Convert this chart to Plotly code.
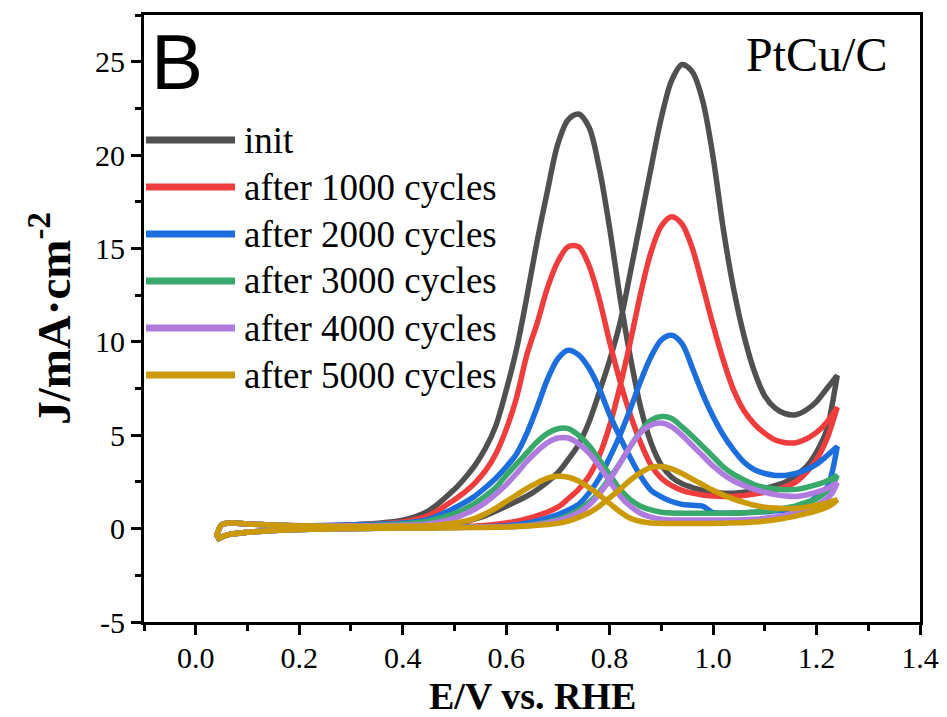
import plotly.graph_objects as go

# ---------------- data ----------------
E_FWD = [0.04, 0.06, 0.1, 0.2, 0.3, 0.4, 0.5, 0.55, 0.6, 0.65,
         0.7, 0.72, 0.74, 0.76, 0.78, 0.8, 0.82, 0.84, 0.86, 0.88,
         0.9, 0.92, 0.94, 0.96, 0.98, 1.0, 1.02, 1.04, 1.06, 1.08,
         1.1, 1.12, 1.14, 1.16, 1.18, 1.2, 1.22, 1.24]
E_BWD = [1.24, 1.23, 1.22, 1.2, 1.18, 1.16, 1.14, 1.12, 1.1, 1.08,
         1.06, 1.04, 1.02, 1.0, 0.98, 0.96, 0.94, 0.92, 0.9, 0.88,
         0.86, 0.84, 0.82, 0.8, 0.78, 0.76, 0.74, 0.72, 0.7, 0.68,
         0.66, 0.64, 0.62, 0.6, 0.58, 0.56, 0.54, 0.52, 0.5, 0.45,
         0.4, 0.3, 0.2, 0.1, 0.07, 0.05, 0.04]

INIT_FWD = [-0.6, -0.35, -0.2, -0.05, 0.0, 0.05, 0.25, 0.6, 1.2, 1.9,
            3.0, 3.7, 4.5, 5.7, 7.3, 9.0, 11.0, 13.7, 16.5, 19.3,
            22.0, 24.0, 24.85, 24.45, 22.9, 19.9, 16.0, 12.8, 10.3, 8.4,
            7.1, 6.45, 6.15, 6.1, 6.35, 6.8, 7.5, 8.2]
INIT_BWD = [8.2, 6.6, 5.3, 4.1, 3.3, 2.85, 2.5, 2.3, 2.15, 2.05,
            1.95, 1.9, 1.9, 1.95, 2.05, 2.2, 2.4, 2.75, 3.4, 4.6,
            6.5, 9.2, 12.4, 16.1, 19.3, 21.5, 22.2, 21.9, 20.6, 18.1,
            15.4, 12.4, 9.6, 7.4, 5.5, 4.3, 3.4, 2.7, 2.1, 0.95,
            0.45, 0.2, 0.15, 0.25, 0.3, 0.2, -0.45]

C1000_FWD = [-0.6, -0.35, -0.2, -0.05, 0.0, 0.03, 0.1, 0.15, 0.3, 0.6,
             1.15, 1.6, 2.1, 2.8, 3.9, 5.5, 7.6, 10.0, 12.6, 14.8,
             16.2, 16.7, 16.3, 15.0, 13.0, 10.9, 9.0, 7.4, 6.3, 5.6,
             5.1, 4.75, 4.6, 4.6, 4.8, 5.15, 5.7, 6.5]
C1000_BWD = [6.5, 5.6, 4.8, 3.7, 3.0, 2.5, 2.25, 2.05, 1.95, 1.85,
             1.78, 1.72, 1.72, 1.75, 1.8, 1.9, 2.05, 2.3, 2.7, 3.4,
             4.6, 6.1, 7.9, 10.0, 12.3, 14.1, 15.1, 15.1, 14.3, 12.9,
             11.0, 9.3, 7.0, 5.3, 4.0, 3.1, 2.45, 1.95, 1.55, 0.7,
             0.35, 0.2, 0.15, 0.25, 0.3, 0.2, -0.45]

C2000_FWD = [-0.6, -0.35, -0.2, -0.05, 0.0, 0.03, 0.08, 0.1, 0.15, 0.35,
             0.75, 1.0, 1.3, 1.9, 2.7, 3.8, 5.0, 6.4, 7.9, 9.2,
             10.1, 10.35, 9.9, 8.6, 7.2, 6.0, 5.0, 4.2, 3.55, 3.15,
             2.95, 2.85, 2.85, 2.95, 3.15, 3.45, 3.9, 4.4]
C2000_BWD = [4.4, 3.0, 2.2, 1.7, 1.35, 1.15, 1.0, 0.95, 0.9, 0.88,
             0.85, 0.83, 0.82, 0.85, 1.2, 1.25, 1.3, 1.45, 1.7, 2.05,
             2.8, 3.8, 4.9, 6.1, 7.5, 8.6, 9.3, 9.55, 9.1, 8.0,
             6.5, 5.1, 4.0, 3.3, 2.7, 2.2, 1.75, 1.4, 1.1, 0.5,
             0.3, 0.2, 0.15, 0.25, 0.3, 0.2, -0.45]

C3000_FWD = [-0.6, -0.35, -0.2, -0.05, 0.0, 0.03, 0.06, 0.08, 0.1, 0.2,
             0.5, 0.7, 1.0, 1.4, 1.95, 2.7, 3.5, 4.4, 5.2, 5.8,
             6.0, 5.9, 5.45, 4.95, 4.4, 3.85, 3.3, 2.9, 2.6, 2.35,
             2.2, 2.12, 2.08, 2.1, 2.2, 2.35, 2.55, 2.85]
C3000_BWD = [2.85, 2.3, 2.0, 1.6, 1.4, 1.22, 1.1, 1.0, 0.93, 0.88,
             0.85, 0.83, 0.82, 0.82, 0.82, 0.82, 0.82, 0.83, 0.88, 1.0,
             1.2, 1.55, 2.1, 2.9, 3.7, 4.45, 5.0, 5.35, 5.35, 5.1,
             4.65, 4.05, 3.45, 2.85, 2.2, 1.75, 1.35, 1.05, 0.8, 0.4,
             0.25, 0.15, 0.15, 0.25, 0.3, 0.2, -0.45]

C4000_FWD = [-0.6, -0.35, -0.2, -0.05, 0.0, 0.03, 0.06, 0.08, 0.1, 0.18,
             0.42, 0.6, 0.85, 1.25, 1.85, 2.6, 3.5, 4.4, 5.15, 5.55,
             5.65, 5.45, 5.0, 4.45, 3.9, 3.35, 2.9, 2.55, 2.3, 2.1,
             1.95, 1.82, 1.75, 1.72, 1.8, 1.95, 2.15, 2.45]
C4000_BWD = [2.45, 1.9, 1.6, 1.25, 1.05, 0.85, 0.72, 0.62, 0.55, 0.5,
             0.47, 0.46, 0.46, 0.46, 0.46, 0.46, 0.46, 0.46, 0.5, 0.62,
             0.82, 1.2, 1.75, 2.55, 3.35, 4.05, 4.55, 4.85, 4.85, 4.6,
             4.15, 3.6, 2.95, 2.35, 1.85, 1.4, 1.05, 0.78, 0.55, 0.25,
             0.18, 0.15, 0.15, 0.25, 0.3, 0.2, -0.45]

C5000_FWD = [-0.6, -0.35, -0.2, -0.05, 0.0, 0.03, 0.05, 0.06, 0.08, 0.15,
             0.28, 0.4, 0.6, 0.85, 1.2, 1.65, 2.1, 2.6, 3.0, 3.28,
             3.32, 3.2, 2.95, 2.65, 2.35, 2.05, 1.8, 1.58, 1.4, 1.25,
             1.15, 1.1, 1.08, 1.08, 1.15, 1.25, 1.38, 1.55]
C5000_BWD = [1.55, 1.3, 1.15, 0.95, 0.8, 0.67, 0.56, 0.47, 0.4, 0.35,
             0.32, 0.3, 0.29, 0.28, 0.28, 0.28, 0.28, 0.28, 0.28, 0.3,
             0.38, 0.55, 0.9, 1.35, 1.8, 2.2, 2.55, 2.75, 2.8, 2.7,
             2.45, 2.15, 1.8, 1.45, 1.1, 0.8, 0.55, 0.4, 0.3, 0.15,
             0.12, 0.12, 0.15, 0.25, 0.3, 0.2, -0.45]

LABELS = ["init", "after 1000 cycles", "after 2000 cycles",
          "after 3000 cycles", "after 4000 cycles", "after 5000 cycles"]
COLORS = ["#505050", "#EF3D3D", "#1C6EDD", "#38A96A", "#B07BDF", "#CC9A06"]
SERIES = [(INIT_FWD, INIT_BWD), (C1000_FWD, C1000_BWD), (C2000_FWD, C2000_BWD),
          (C3000_FWD, C3000_BWD), (C4000_FWD, C4000_BWD), (C5000_FWD, C5000_BWD)]

X_TICKS = [0.0, 0.2, 0.4, 0.6, 0.8, 1.0, 1.2, 1.4]
Y_TICKS = [-5, 0, 5, 10, 15, 20, 25]
X_TITLE = "<b>E/V vs. RHE</b>"
Y_TITLE = "<b>J/mA·cm<sup>-2</sup></b>"

# ---------------- figure ----------------
W, H = 947, 717
ML, MR, MT, MB = 144, 27, 15, 95
PW, PH = W - ML - MR, H - MT - MB

def px_x(p):
    return (p - ML) / PW

def px_y(p):
    return (H - MB - p) / PH

fig = go.Figure()
for (fwd, bwd), color, name in zip(SERIES, COLORS, LABELS):
    fig.add_trace(go.Scatter(
        x=E_FWD + E_BWD, y=fwd + bwd, mode="lines", name=name,
        line=dict(color=color, width=5.5, shape="spline", smoothing=0.9,
                  simplify=False),
        showlegend=False, hoverinfo="skip"))

SERIF = "Liberation Serif, Times New Roman, serif"

# manual legend (long sample lines like the reference)
legend_rows = [140, 187, 234, 281, 328, 375]
for yrow, color, name in zip(legend_rows, COLORS, LABELS):
    fig.add_shape(type="line", xref="paper", yref="paper",
                  x0=px_x(146), x1=px_x(235), y0=px_y(yrow), y1=px_y(yrow),
                  line=dict(color=color, width=7))
    fig.add_annotation(xref="paper", yref="paper", x=px_x(242), y=px_y(yrow),
                       text=name, showarrow=False, xanchor="left", yanchor="middle",
                       font=dict(family=SERIF, size=37, color="black"))

fig.add_annotation(xref="paper", yref="paper", x=px_x(149), y=px_y(16),
                   text="B", showarrow=False, xanchor="left", yanchor="top",
                   font=dict(family="Liberation Sans, Arial, sans-serif", size=78, color="black"))
fig.add_annotation(xref="paper", yref="paper", x=px_x(889), y=px_y(55),
                   text="PtCu/C", showarrow=False, xanchor="right", yanchor="middle",
                   font=dict(family=SERIF, size=48, color="black"))

# x-axis title placed close to the bottom edge, as in the reference
fig.add_annotation(xref="paper", yref="paper", x=px_x(532), y=px_y(696),
                   text=X_TITLE, showarrow=False, xanchor="center", yanchor="middle",
                   font=dict(family=SERIF, size=38, color="black"))

axis_common = dict(showline=True, linewidth=3, linecolor="black", mirror=True,
                   ticks="outside", ticklen=10, tickwidth=3, tickcolor="black",
                   showgrid=False, zeroline=False, automargin=False,
                   tickfont=dict(family=SERIF, size=30, color="black"))

fig.update_xaxes(range=[-0.1, 1.4], tickmode="array", tickvals=X_TICKS,
                 ticktext=[f"{v:.1f}" for v in X_TICKS], ticklabelstandoff=-3,
                 minor=dict(tickmode="linear", tick0=0, dtick=0.1, ticks="outside",
                            ticklen=6, tickwidth=3, tickcolor="black"),
                 **axis_common)
fig.update_yaxes(range=[-5, 27.5], tickmode="array", tickvals=Y_TICKS,
                 ticktext=[str(v) for v in Y_TICKS],
                 minor=dict(tickmode="linear", tick0=0, dtick=2.5, ticks="outside",
                            ticklen=6, tickwidth=3, tickcolor="black"),
                 title=dict(text=Y_TITLE, standoff=10,
                            font=dict(family=SERIF, size=47, color="black")),
                 **axis_common)

fig.update_layout(width=W, height=H, autosize=False,
                  margin=dict(l=ML, r=MR, t=MT, b=MB, pad=0),
                  paper_bgcolor="white", plot_bgcolor="white",
                  showlegend=False)

fig.write_html("out.html")
